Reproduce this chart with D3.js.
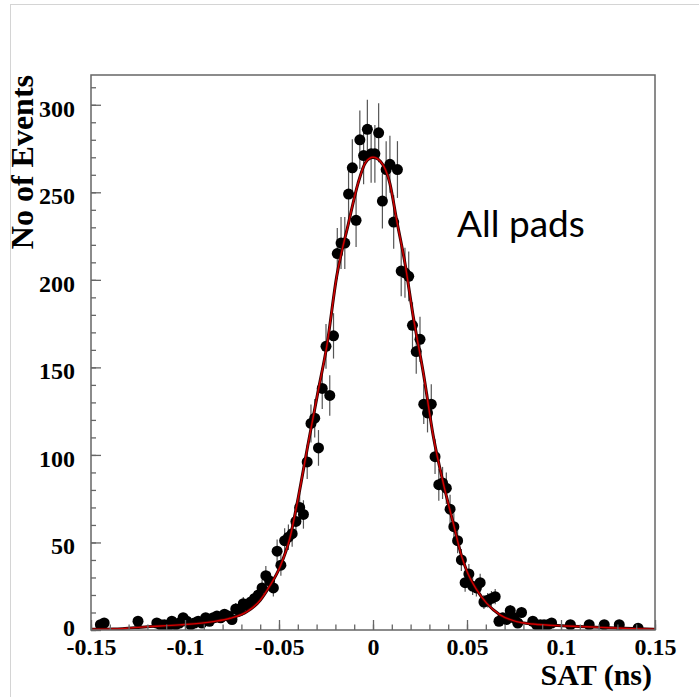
<!DOCTYPE html>
<html>
<head>
<meta charset="utf-8">
<script src="https://cdn.jsdelivr.net/npm/d3@7"></script>
<style>
  html, body { margin: 0; padding: 0; background: #fff; }
</style>
</head>
<body>
<div id="chart"></div>
<script>
// histogram bins with entries (bin width 0.002 ns, empty bins left out)
const satBins = [
  -0.145, -0.143, -0.125, -0.115, -0.113, -0.111, -0.109, -0.107, -0.105, -0.103,
  -0.101, -0.099, -0.097, -0.095, -0.093, -0.091, -0.089, -0.087, -0.085, -0.083,
  -0.081, -0.079, -0.077, -0.075, -0.073, -0.071, -0.069, -0.067, -0.065, -0.063,
  -0.061, -0.059, -0.057, -0.055, -0.053, -0.051, -0.049, -0.047, -0.045, -0.043,
  -0.041, -0.039, -0.037, -0.035, -0.033, -0.031, -0.029, -0.027, -0.025, -0.023,
  -0.021, -0.019, -0.017, -0.015, -0.013, -0.011, -0.009, -0.007, -0.005, -0.003,
  -0.001, 0.001, 0.003, 0.005, 0.007, 0.009, 0.011, 0.013, 0.015, 0.017,
  0.019, 0.021, 0.023, 0.025, 0.027, 0.029, 0.031, 0.033, 0.035, 0.037,
  0.039, 0.041, 0.043, 0.045, 0.047, 0.049, 0.051, 0.053, 0.055, 0.057,
  0.059, 0.061, 0.063, 0.065, 0.067, 0.069, 0.071, 0.073, 0.075, 0.077,
  0.079, 0.085, 0.087, 0.089, 0.091, 0.093, 0.095, 0.105, 0.115, 0.123,
  0.131, 0.141
];
const events = [
  3, 4, 5, 4, 3, 3, 2, 5, 3, 4,
  7, 5, 3, 4, 5, 4, 7, 5, 7, 8,
  7, 9, 8, 6, 12, 11, 15, 14, 16, 18,
  20, 24, 31, 28, 24, 45, 37, 51, 53, 55,
  62, 70, 66, 96, 118, 121, 104, 138, 162, 134,
  168, 215, 221, 221, 249, 264, 234, 280, 271, 286,
  272, 272, 284, 245, 263, 266, 233, 263, 205, 204,
  202, 174, 159, 166, 129, 124, 129, 99, 83, 84,
  81, 69, 59, 51, 40, 27, 32, 25, 24, 27,
  16, 17, 18, 19, 5, 7, 6, 11, 7, 4,
  10, 5, 3, 3, 3, 3, 4, 3, 3, 3,
  3, 1
];

// fit curve
const fitX = [-0.15, -0.138, -0.12, -0.103, -0.085, -0.076, -0.067, -0.06, -0.055, -0.0495,
  -0.0441, -0.0397, -0.0344, -0.0291, -0.0246, -0.0193, -0.0131, -0.008, -0.004, 0,
  0.004, 0.009, 0.0126, 0.017, 0.0214, 0.0268, 0.0321, 0.0374, 0.0427, 0.0472,
  0.0498, 0.0552, 0.0605, 0.0676, 0.0764, 0.0851, 0.103, 0.121, 0.138, 0.15];
const fitY = [0.4, 0.6, 1.9, 2.9, 4.8, 6.7, 10.5, 17, 25, 36,
  53, 76, 107, 137, 162, 202, 232, 255, 267, 270,
  267.6, 255, 234, 209.5, 179, 146.7, 110.5, 83.8, 61, 41.9,
  34, 22.9, 15.2, 8.6, 4.8, 3.4, 2.3, 1.5, 0.8, 0.4];

const xTicks = [-0.15, -0.1, -0.05, 0, 0.05, 0.1, 0.15];
const xTickLabels = ['-0.15', '-0.1', '-0.05', '0', '0.05', '0.1', '0.15'];
const yTicks = [0, 50, 100, 150, 200, 250, 300];

const width = 699;
const height = 697;
const margin = { top: 75, right: 44, bottom: 67, left: 91 };

const svg = d3.select('#chart')
  .append('svg')
  .attr('width', width)
  .attr('height', height);

// slide border
svg.append('rect')
  .attr('x', 10.5).attr('y', 4.5)
  .attr('width', width).attr('height', height)
  .attr('fill', 'none')
  .attr('stroke', '#d4d4d4')
  .attr('stroke-width', 1);

const x = d3.scaleLinear()
  .domain([-0.15, 0.15])
  .range([margin.left, width - margin.right]);

const y = d3.scaleLinear()
  .domain([0, 317])
  .range([height - margin.bottom, margin.top]);

svg.append('clipPath').attr('id', 'frame-clip')
  .append('rect')
  .attr('x', margin.left).attr('y', margin.top)
  .attr('width', x.range()[1] - margin.left)
  .attr('height', y.range()[0] - margin.top);

const points = satBins.map((b, i) => ({ sat: b, n: events[i] }));

const plot = svg.append('g').attr('clip-path', 'url(#frame-clip)');

// error bars
plot.append('g')
  .attr('stroke', '#555')
  .attr('stroke-width', 1.2)
  .selectAll('line')
  .data(points)
  .join('line')
    .attr('x1', d => x(d.sat))
    .attr('x2', d => x(d.sat))
    .attr('y1', d => y(d.n + Math.sqrt(d.n)))
    .attr('y2', d => y(Math.max(0, d.n - Math.sqrt(d.n))));

// markers
plot.append('g')
  .attr('fill', '#000')
  .selectAll('circle')
  .data(points)
  .join('circle')
    .attr('cx', d => x(d.sat))
    .attr('cy', d => y(d.n))
    .attr('r', 5.5);

// fit
const fitLine = d3.line()
  .x((d, i) => x(fitX[i]))
  .y(d => y(d))
  .curve(d3.curveMonotoneX);

plot.append('path')
  .attr('d', fitLine(fitY))
  .attr('fill', 'none')
  .attr('stroke', '#300')
  .attr('stroke-width', 3);

plot.append('path')
  .attr('d', fitLine(fitY))
  .attr('fill', 'none')
  .attr('stroke', '#d40000')
  .attr('stroke-width', 1.4);

// axes (ROOT style: ticks inside the frame)
const tickFont = '"Liberation Serif", "Times New Roman", serif';

function xAxis(g) {
  g.attr('transform', `translate(0,${y(0)})`)
    .call(d3.axisBottom(x).tickValues(d3.range(-0.15, 0.1501, 0.01)).tickSize(-5.5).tickFormat(''))
    .call(g => g.select('.domain').remove());
  g.append('g')
    .call(d3.axisBottom(x).tickValues(xTicks).tickSize(-10).tickPadding(8)
      .tickFormat((d, i) => xTickLabels[i]))
    .call(g => g.select('.domain').remove())
    .selectAll('text')
      .attr('fill', '#000')
      .attr('font-family', tickFont)
      .attr('font-weight', 'bold')
      .attr('font-size', '24px');
  g.selectAll('line').attr('stroke', '#666').attr('stroke-width', 1.3);
}

function yAxis(g) {
  g.attr('transform', `translate(${margin.left},0)`)
    .call(d3.axisLeft(y).tickValues(d3.range(0, 311, 10)).tickSize(-5).tickFormat(''))
    .call(g => g.select('.domain').remove());
  g.append('g')
    .call(d3.axisLeft(y).tickValues(yTicks).tickSize(-10).tickPadding(16))
    .call(g => g.select('.domain').remove())
    .selectAll('text')
      .attr('fill', '#000')
      .attr('dy', d => d === 0 ? '0.22em' : '0.47em')
      .attr('font-family', tickFont)
      .attr('font-weight', 'bold')
      .attr('font-size', '24px');
  g.selectAll('line').attr('stroke', '#666').attr('stroke-width', 1.3);
}

svg.append('g').call(xAxis);
svg.append('g').call(yAxis);

// frame
svg.append('rect')
  .attr('x', margin.left).attr('y', margin.top)
  .attr('width', x.range()[1] - margin.left)
  .attr('height', y.range()[0] - margin.top)
  .attr('fill', 'none')
  .attr('stroke', '#666')
  .attr('stroke-width', 1.5);

// titles
svg.append('text')
  .attr('x', width - margin.right - 3)
  .attr('y', 685)
  .attr('text-anchor', 'end')
  .attr('font-family', tickFont)
  .attr('font-weight', 'bold')
  .attr('font-size', '30px')
  .text('SAT (ns)');

svg.append('text')
  .attr('transform', `translate(33,${margin.top}) rotate(-90)`)
  .attr('text-anchor', 'end')
  .attr('font-family', tickFont)
  .attr('font-weight', 'bold')
  .attr('font-size', '32px')
  .text('No of Events');

svg.append('text')
  .attr('x', 457)
  .attr('y', 237)
  .attr('font-family', 'Lato, "Open Sans", sans-serif')
  .attr('font-size', '37px')
  .attr('fill', '#000')
  .text('All pads');
</script>
</body>
</html>
